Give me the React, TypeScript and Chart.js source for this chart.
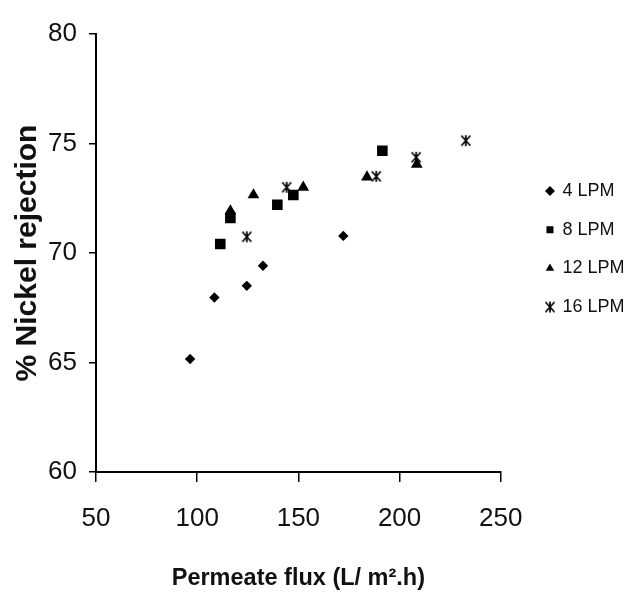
import React, { useEffect, useRef } from 'react';
import { Chart, registerables } from 'chart.js';

Chart.register(...registerables);

// ---- data ----
const seriesNames = ['4 LPM', '8 LPM', '12 LPM', '16 LPM'];

const flux4 = [96.5, 108.5, 124.5, 132.5, 172.2];
const rej4 = [65.16, 67.97, 68.5, 69.42, 70.78];

const flux8 = [111.4, 116.4, 139.6, 147.5, 191.5];
const rej8 = [70.41, 71.6, 72.2, 72.65, 74.67];

const flux12 = [116.4, 127.8, 152.4, 183.9, 208.5];
const rej12 = [71.92, 72.65, 73.0, 73.47, 74.05];

const flux16 = [124.5, 144.2, 188.5, 208.2, 232.7];
const rej16 = [70.74, 73.0, 73.5, 74.37, 75.13];

const xMin = 50;
const xMax = 250;
const xStep = 50;
const yMin = 60;
const yMax = 80;
const yStep = 5;

const xTitle = 'Permeate flux (L/ m\u00B2.h)';
const yTitle = '% Nickel rejection';

const FONT = "'Liberation Sans', Arial, sans-serif";

function makeStar(): HTMLCanvasElement {
  const c = document.createElement('canvas');
  c.width = 12;
  c.height = 13;
  const g = c.getContext('2d')!;
  g.strokeStyle = '#000';
  g.lineWidth = 1.7;
  g.beginPath();
  g.moveTo(1.5, 1.5);
  g.lineTo(10.5, 11.5);
  g.moveTo(10.5, 1.5);
  g.lineTo(1.5, 11.5);
  g.moveTo(6, 1);
  g.lineTo(6, 12);
  g.stroke();
  return c;
}

const pts = (xs: number[], ys: number[]) => xs.map((x, i) => ({ x, y: ys[i] }));

export default function App() {
  const ref = useRef<HTMLCanvasElement>(null);

  useEffect(() => {
    const star = makeStar();
    const legendPlacer = {
      id: 'legendPlacer',
      afterLayout(chart: any) {
        const l = chart.legend;
        if (l) {
          const w = l.right - l.left;
          l.left = chart.chartArea.right + 25;
          l.right = l.left + w;
          l.top -= 4;
          l.bottom -= 4;
        }
      },
    };
    const common = { backgroundColor: '#000', borderColor: '#000', borderWidth: 0, showLine: false };
    const chart = new Chart(ref.current!, {
      type: 'scatter',
      data: {
        datasets: [
          { ...common, label: seriesNames[0], data: pts(flux4, rej4), pointStyle: 'rectRot', pointRadius: 5.2 },
          { ...common, label: seriesNames[1], data: pts(flux8, rej8), pointStyle: 'rect', pointRadius: 7.5 },
          { ...common, label: seriesNames[2], data: pts(flux12, rej12), pointStyle: 'triangle', pointRadius: 6.8 },
          { ...common, label: seriesNames[3], data: pts(flux16, rej16), pointStyle: star as any, pointRadius: 6 },
        ],
      },
      options: {
        animation: false,
        responsive: true,
        maintainAspectRatio: false,
        layout: { padding: { top: 34, right: 18.5, bottom: 0, left: 0 } },
        plugins: {
          tooltip: { enabled: false },
          legend: {
            position: 'right',
            fullSize: false,
            labels: {
              usePointStyle: true,
              boxWidth: 7,
              boxHeight: 7,
              padding: 20.7,
              color: '#111',
              font: { family: FONT, size: 18 },
            },
          },
        },
        scales: {
          x: {
            type: 'linear',
            min: xMin,
            max: xMax,
            afterFit: (s: any) => {
              s.height = 123;
            },
            ticks: {
              stepSize: xStep,
              color: '#111',
              padding: 21,
              font: { family: FONT, size: 26 },
            },
            grid: { display: true, drawOnChartArea: false, drawTicks: true, tickLength: 10, color: '#000', lineWidth: 1.5 },
            border: { display: true, color: '#000', width: 2 },
            title: {
              display: true,
              text: xTitle,
              color: '#111',
              font: { family: FONT, size: 23.5, weight: 'bold' },
              padding: { top: 0, bottom: 2 },
            },
          },
          y: {
            type: 'linear',
            min: yMin,
            max: yMax,
            afterFit: (s: any) => {
              s.width = 96;
            },
            ticks: {
              stepSize: yStep,
              color: '#111',
              padding: 12,
              font: { family: FONT, size: 26 },
            },
            grid: { display: true, drawOnChartArea: false, drawTicks: true, tickLength: 7, color: '#000', lineWidth: 1.5 },
            border: { display: true, color: '#000', width: 2 },
            title: {
              display: true,
              text: yTitle,
              color: '#111',
              font: { family: FONT, size: 30, weight: 'bold' },
              padding: { top: 10, bottom: 0 },
            },
          },
        },
      },
      plugins: [legendPlacer],
    });
    return () => chart.destroy();
  }, []);

  return (
    <div style={{ position: 'fixed', left: 0, top: 0, width: 628, height: 595, background: '#fff' }}>
      <canvas ref={ref} />
    </div>
  );
}
